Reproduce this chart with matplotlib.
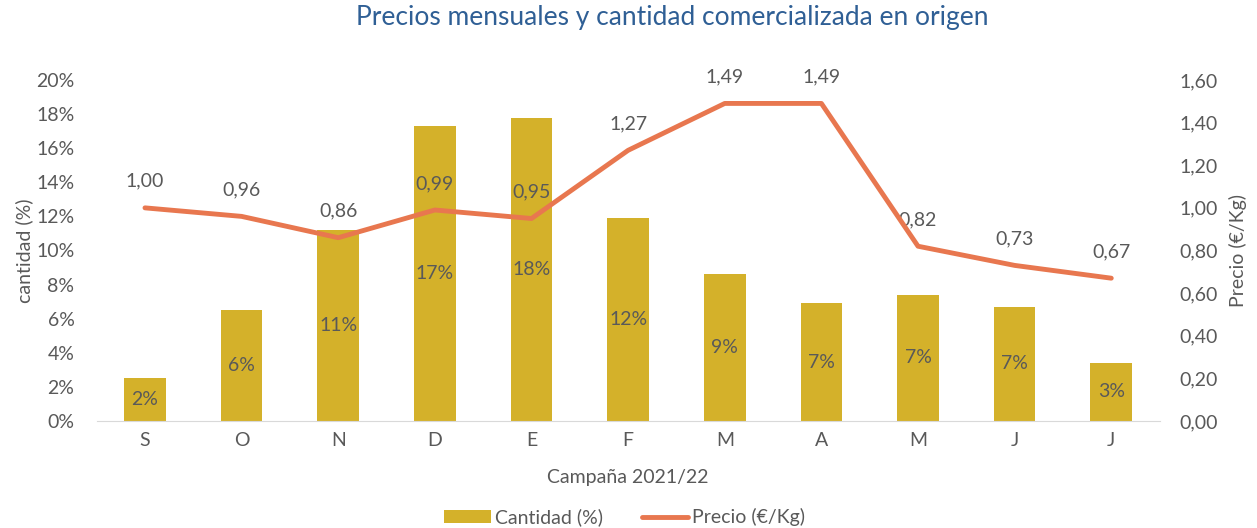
import matplotlib
matplotlib.use("Agg")
import matplotlib.pyplot as plt
from matplotlib.ticker import FuncFormatter


BAR_COLOR = "#D4B12A"
LINE_COLOR = "#E8774F"
TEXT_COLOR = "#595959"
TITLE_COLOR = "#2F5F95"

months = ["S", "O", "N", "D", "E", "F", "M", "A", "M", "J", "J"]
cantidad = [2.5, 6.5, 11.2, 17.3, 17.8, 11.9, 8.6, 6.9, 7.4, 6.7, 3.4]
cantidad_labels = ["2%", "6%", "11%", "17%", "18%", "12%", "9%", "7%", "7%", "7%", "3%"]
precio = [1.00, 0.96, 0.86, 0.99, 0.95, 1.27, 1.49, 1.49, 0.82, 0.73, 0.67]

plt.rcParams["font.family"] = ["Lato", "DejaVu Sans"]

fig = plt.figure(figsize=(12.57, 5.28), dpi=100)
ax = fig.add_axes([0.0769, 0.2027, 0.8456, 0.6458])
ax2 = ax.twinx()

x = list(range(len(months)))
bars = ax.bar(x, cantidad, width=0.43, color=BAR_COLOR, label="Cantidad (%)", zorder=2)
for xi, val, lab in zip(x, cantidad, cantidad_labels):
    ax.text(xi, val / 2, lab, ha="center", va="center", fontsize=14, color=TEXT_COLOR, zorder=3)

line, = ax2.plot(x, precio, color=LINE_COLOR, linewidth=3.5, solid_capstyle="round", label="Precio (€/Kg)", zorder=4)
for xi, val in zip(x, precio):
    ax2.annotate(f"{val:.2f}".replace(".", ","), (xi, val), xytext=(0, 13), textcoords="offset points",
                 ha="center", va="bottom", fontsize=14, color=TEXT_COLOR)

ax.set_xlim(-0.5, len(months) - 0.5)
ax.set_ylim(0, 20)
ax.set_yticks(range(0, 21, 2))
ax.yaxis.set_major_formatter(FuncFormatter(lambda v, p: f"{int(v)}%"))
ax2.set_ylim(0, 1.6)
ax2.set_yticks([i * 0.2 for i in range(9)])
ax2.yaxis.set_major_formatter(FuncFormatter(lambda v, p: f"{v:.2f}".replace(".", ",")))

ax.set_xticks(x)
ax.set_xticklabels(months)

for a in (ax, ax2):
    for side in ("top", "right", "left"):
        a.spines[side].set_visible(False)
    a.tick_params(length=0, labelsize=14, colors=TEXT_COLOR, pad=8)
ax2.spines["bottom"].set_visible(False)
ax.spines["bottom"].set_color("#D9D9D9")
ax.tick_params(axis="y", pad=16)
ax2.tick_params(axis="y", pad=14)

ax.set_ylabel("cantidad (%)", fontsize=14, color=TEXT_COLOR, labelpad=2)
ax2.set_ylabel("Precio (€/Kg)", fontsize=14, color=TEXT_COLOR, labelpad=8)
ax.set_xlabel("Campaña 2021/22", fontsize=14, color=TEXT_COLOR, labelpad=14)

fig.suptitle("Precios mensuales y cantidad comercializada en origen", x=0.535, y=0.99,
             fontsize=19, color=TITLE_COLOR)

fig.legend([bars, line], ["Cantidad (%)", "Precio (€/Kg)"], loc="lower center", bbox_to_anchor=(0.497, -0.03),
           ncol=2, frameon=False, fontsize=14, labelcolor=TEXT_COLOR, handlelength=2.4, columnspacing=2.0,
           handletextpad=0.2)

fig.savefig("out.png", dpi=100)
